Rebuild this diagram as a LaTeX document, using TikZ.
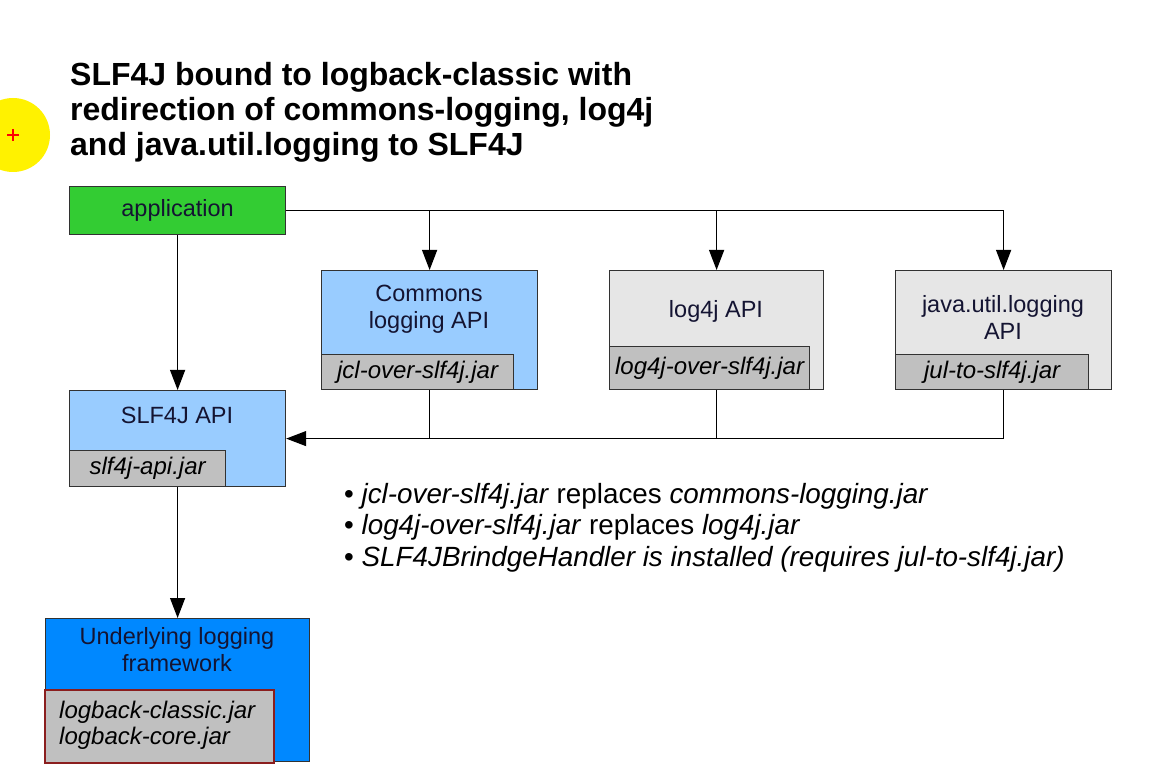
\documentclass[tikz,border=0pt]{standalone}
\usepackage{fontspec}
\setmainfont{Liberation Sans}
\usetikzlibrary{arrows.meta,calc}
\definecolor{appgreen}{RGB}{51,204,51}
\definecolor{lblue}{RGB}{153,204,255}
\definecolor{lgray}{RGB}{230,230,230}
\definecolor{jgray}{RGB}{192,192,192}
\definecolor{ublue}{RGB}{0,136,255}
\definecolor{dred}{RGB}{139,30,30}
\definecolor{bord}{RGB}{50,50,50}
\definecolor{ytxt}{RGB}{20,20,50}
\begin{document}
\begin{tikzpicture}[x=1pt,y=-1pt,
  box/.style={draw=bord,line width=1.2pt,anchor=north west,inner sep=0pt},
  jarbox/.style={draw=bord,line width=1.2pt,fill=jgray,anchor=south west,inner sep=0pt,font=\fontsize{24}{28}\selectfont\itshape},
  lbl/.style={inner sep=0pt,align=center,text=ytxt,font=\fontsize{23.5}{27}\selectfont},
  ttl/.style={inner sep=0pt,anchor=base west,font=\fontsize{32}{36}\selectfont\bfseries},
  bul/.style={inner sep=0pt,anchor=base west,font=\fontsize{27.8}{30}\selectfont},
  conn/.style={draw=black,line width=1.2pt},
  arr/.style={conn,-{Triangle[length=20pt,width=15pt]}}]
\useasboundingbox[fill=white] (0,0) rectangle (1165,783);
% marker
\node[circle,fill=yellow,minimum size=74pt,inner sep=0pt] (mark) at (13,135) {};
\draw[red,line width=2pt] ($(mark.center)+(-6,0)$) -- ($(mark.center)+(6,0)$)
  ($(mark.center)+(0,-6)$) -- ($(mark.center)+(0,6)$);
% title
\node[ttl] (t1) at (70,86) {SLF4J bound to logback-classic with};
\node[ttl] (t2) at (70,121) {redirection of commons-logging, log4j};
\node[ttl] (t3) at (70,156) {and java.util.logging to SLF4J};
% application
\node[box,fill=appgreen,minimum width=216pt,minimum height=48pt] (app) at (69,186) {};
\node[lbl] (applbl) at (app.center) {application};
% commons
\node[box,fill=lblue,minimum width=216pt,minimum height=119pt] (cl) at (321,270) {};
\node[lbl] (cllbl) at (429,309) {Commons\\logging API};
\node[jarbox,minimum width=192pt,minimum height=35pt] (cljar) at (cl.south west) {jcl-over-slf4j.jar};
% log4j
\node[box,fill=lgray,minimum width=214pt,minimum height=119pt] (lj) at (609,270) {};
\node[lbl] (ljlbl) at (716,311) {log4j API};
\node[jarbox,minimum width=200pt,minimum height=43pt] (ljjar) at (lj.south west) {log4j-over-slf4j.jar};
% jul
\node[box,fill=lgray,minimum width=216pt,minimum height=119pt] (jul) at (895,270) {};
\node[lbl] (jullbl) at (1003,317) {java.util.logging\\API};
\node[jarbox,minimum width=193pt,minimum height=35pt] (juljar) at (jul.south west) {jul-to-slf4j.jar};
% slf4j api
\node[box,fill=lblue,minimum width=216pt,minimum height=96pt] (slf) at (69,390) {};
\node[lbl] (slflbl) at (177,415) {SLF4J API};
\node[jarbox,minimum width=156pt,minimum height=36pt] (slfjar) at (slf.south west) {slf4j-api.jar};
% underlying
\node[box,fill=ublue,minimum width=264pt,minimum height=143pt] (ul) at (45,618) {};
\node[lbl] (ullbl) at (177,650) {Underlying logging\\framework};
\node[draw=dred,line width=1.5pt,fill=jgray,anchor=north west,minimum width=229pt,minimum height=73pt,inner sep=0pt] (lb) at (44,689) {};
\node[inner sep=0pt,anchor=west,align=left,font=\fontsize{24}{26}\selectfont\itshape] (lblbl) at (59,725) {logback-classic.jar\\logback-core.jar};
% connectors
\draw[conn] (app.east) -- (app.east -| jul.north);
\draw[arr] (app.east -| cl.north) -- (cl.north);
\draw[arr] (app.east -| lj.north) -- (lj.north);
\draw[arr] (app.east -| jul.north) -- (jul.north);
\draw[arr] (app.south) -- (slf.north);
\draw[conn] (cl.south) -- (cl.south |- slf.east);
\draw[conn] (lj.south) -- (lj.south |- slf.east);
\draw[arr] (jul.south) |- (slf.east);
\draw[arr] (slf.south) -- (ul.north);
% bullets
\node[bul] (b1) at (344,503) {• \textit{jcl-over-slf4j.jar} replaces \textit{commons-logging.jar}};
\node[bul] (b2) at (344,534) {• \textit{log4j-over-slf4j.jar} replaces \textit{log4j.jar}};
\node[bul] (b3) at (344,566) {• \textit{SLF4JBrindgeHandler is installed (requires jul-to-slf4j.jar)}};
\end{tikzpicture}
\end{document}
